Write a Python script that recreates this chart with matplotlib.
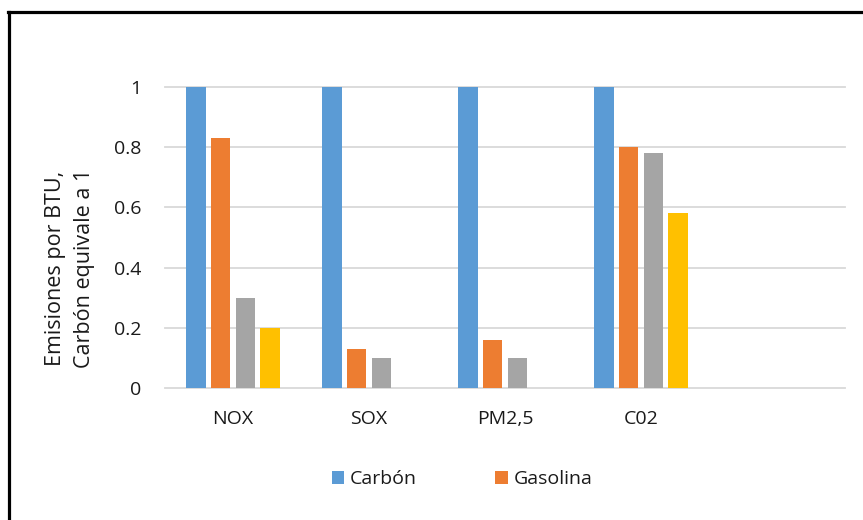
import matplotlib.pyplot as plt
from matplotlib.lines import Line2D
import numpy as np

plt.rcParams['font.family'] = ['Open Sans', 'DejaVu Sans']

# Emissions per BTU, coal normalised to 1
categories = ['NOX', 'SOX', 'PM2,5', 'C02']
carbon = [1, 1, 1, 1]
gasolina = [0.83, 0.13, 0.16, 0.8]
serie3 = [0.3, 0.1, 0.1, 0.78]
serie4 = [0.2, 0, 0, 0.58]
yticks = [0, 0.2, 0.4, 0.6, 0.8, 1]

series = [
    (carbon, '#5B9BD5', 'Carbón'),
    (gasolina, '#ED7D31', 'Gasolina'),
    (serie3, '#A5A5A5', '_nolegend_'),
    (serie4, '#FFC000', '_nolegend_'),
]

fig = plt.figure(figsize=(8.63, 5.2), dpi=100)
ax = fig.add_axes([165 / 863, 1 - 388 / 520, 680 / 863, 301 / 520])

x = np.arange(len(categories))
slot = 0.182
width = 0.143
for i, (vals, color, label) in enumerate(series):
    ax.bar(x + (i - 1.5) * slot, vals, width, color=color, label=label, zorder=2)

for y in yticks:
    ax.axhline(y, color='#D9D9D9', lw=1.3, zorder=1, clip_on=False)

ax.set_xlim(-0.5, 4.5)
ax.set_ylim(0, 1)
ax.set_yticks(yticks)
ax.set_yticklabels(['0', '0.2', '0.4', '0.6', '0.8', '1'])
ax.set_xticks(x)
ax.set_xticklabels(categories)
ax.tick_params(length=0, labelsize=14, colors='#1a1a1a')
ax.tick_params(axis='y', pad=17)
ax.tick_params(axis='x', pad=16)
for s in ax.spines.values():
    s.set_visible(False)

fig.text(70 / 863, 1 - 268 / 520, 'Emisiones por BTU,\nCarbón equivale a 1',
         rotation=90, ha='center', va='center', fontsize=15.5, color='#1a1a1a',
         linespacing=1.45)

fig.legend(loc='center', bbox_to_anchor=(462 / 863, 1 - 479 / 520), ncol=2,
           frameon=False, fontsize=14, handlelength=0.65, handleheight=0.65,
           handletextpad=0.3, columnspacing=4.0, labelcolor='#1a1a1a')

# partial black frame (left and top edges)
fig.add_artist(Line2D([9 / 863, 9 / 863], [0, 1 - 12 / 520], color='black',
                      lw=2.3, transform=fig.transFigure))
fig.add_artist(Line2D([8 / 863, 1], [1 - 12 / 520, 1 - 12 / 520], color='black',
                      lw=2.3, transform=fig.transFigure))

fig.savefig('out.png', dpi=100)
